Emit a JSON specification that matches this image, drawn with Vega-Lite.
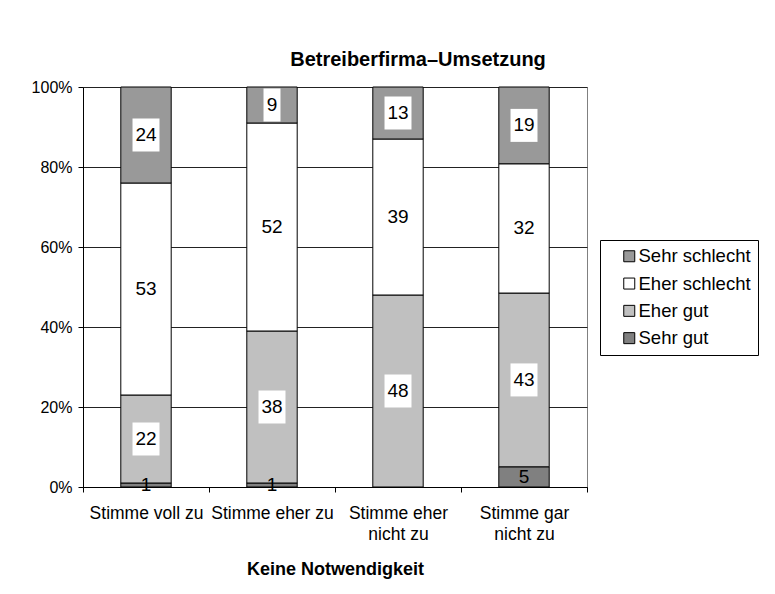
{
  "$schema": "https://vega.github.io/schema/vega-lite/v6.json",
  "width": 504,
  "height": 400,
  "autosize": {"type": "none"},
  "padding": {"left": 83, "top": 87, "right": 188, "bottom": 107},
  "background": "white",
  "config": {"font": "Liberation Sans", "view": {"stroke": "#808080", "strokeWidth": 1}},
  "title": {"text": "Betreiberfirma–Umsetzung", "fontSize": 20, "fontWeight": "bold", "color": "black", "anchor": "middle", "dx": 83, "offset": 9, "frame": "group"},
  "data": {"values": [
    {"cat": "Stimme voll zu", "rating": "Sehr gut", "k": 1, "value": 1},
    {"cat": "Stimme voll zu", "rating": "Eher gut", "k": 2, "value": 22},
    {"cat": "Stimme voll zu", "rating": "Eher schlecht", "k": 3, "value": 53},
    {"cat": "Stimme voll zu", "rating": "Sehr schlecht", "k": 4, "value": 24},
    {"cat": "Stimme eher zu", "rating": "Sehr gut", "k": 1, "value": 1},
    {"cat": "Stimme eher zu", "rating": "Eher gut", "k": 2, "value": 38},
    {"cat": "Stimme eher zu", "rating": "Eher schlecht", "k": 3, "value": 52},
    {"cat": "Stimme eher zu", "rating": "Sehr schlecht", "k": 4, "value": 9},
    {"cat": "Stimme eher nicht zu", "rating": "Eher gut", "k": 2, "value": 48},
    {"cat": "Stimme eher nicht zu", "rating": "Eher schlecht", "k": 3, "value": 39},
    {"cat": "Stimme eher nicht zu", "rating": "Sehr schlecht", "k": 4, "value": 13},
    {"cat": "Stimme gar nicht zu", "rating": "Sehr gut", "k": 1, "value": 5},
    {"cat": "Stimme gar nicht zu", "rating": "Eher gut", "k": 2, "value": 43},
    {"cat": "Stimme gar nicht zu", "rating": "Eher schlecht", "k": 3, "value": 32},
    {"cat": "Stimme gar nicht zu", "rating": "Sehr schlecht", "k": 4, "value": 19}
  ]},
  "transform": [
    {"stack": "value", "groupby": ["cat"], "sort": [{"field": "k", "order": "ascending"}], "offset": "normalize", "as": ["y0", "y1"]},
    {"calculate": "(datum.y0 + datum.y1) / 2", "as": "mid"}
  ],
  "encoding": {
    "x": {
      "field": "cat", "type": "nominal",
      "sort": ["Stimme voll zu", "Stimme eher zu", "Stimme eher nicht zu", "Stimme gar nicht zu"],
      "scale": {"paddingInner": 0, "paddingOuter": 0},
      "axis": {
        "title": "Keine Notwendigkeit", "titleFontSize": 18, "titleFontWeight": "bold", "titleColor": "black", "titlePadding": 18,
        "labelFontSize": 17.5, "labelColor": "black", "labelAngle": 0, "labelPadding": 12, "labelLineHeight": 21,
        "labelOverlap": false, "labelLimit": 0,
        "labelExpr": "datum.label == 'Stimme eher nicht zu' ? ['Stimme eher', 'nicht zu'] : datum.label == 'Stimme gar nicht zu' ? ['Stimme gar', 'nicht zu'] : datum.label",
        "tickBand": "extent", "tickSize": 5, "tickColor": "black", "domainColor": "black"
      }
    }
  },
  "layer": [
    {
      "mark": {"type": "bar", "width": {"band": 0.4}, "stroke": "black", "strokeWidth": 1},
      "encoding": {
        "y": {
          "field": "y0", "type": "quantitative",
          "scale": {"domain": [0, 1], "nice": false},
          "axis": {"title": null, "values": [0, 0.2, 0.4, 0.6, 0.8, 1], "format": ".0%", "labelFontSize": 16, "labelColor": "black",
                   "tickSize": 5, "tickColor": "black", "domainColor": "black", "gridColor": "#222", "labelPadding": 6}
        },
        "y2": {"field": "y1"},
        "color": {
          "field": "rating", "type": "nominal",
          "scale": {"domain": ["Sehr schlecht", "Eher schlecht", "Eher gut", "Sehr gut"], "range": ["#999999", "#ffffff", "#c0c0c0", "#808080"]},
          "legend": {
            "title": null, "orient": "none", "legendX": 517, "legendY": 153,
            "labelFontSize": 18.5, "labelColor": "black", "symbolType": "square", "symbolSize": 121,
            "symbolStrokeColor": "black", "symbolStrokeWidth": 1, "strokeColor": "black", "fillColor": "white",
            "padding": 7, "rowPadding": 8.3, "symbolOffset": 13, "labelOffset": 0
          }
        }
      }
    },
    {
      "transform": [{"filter": "datum.rating != 'Sehr gut' && datum.value >= 10"}],
      "mark": {"type": "point", "shape": "M-0.818,-1L0.818,-1L0.818,1L-0.818,1Z", "size": 1089, "filled": true, "fill": "white", "opacity": 1, "strokeWidth": 0},
      "encoding": {"y": {"field": "mid", "type": "quantitative"}}
    },
    {
      "transform": [{"filter": "datum.rating != 'Sehr gut' && datum.value < 10"}],
      "mark": {"type": "point", "shape": "M-0.515,-1L0.515,-1L0.515,1L-0.515,1Z", "size": 1089, "filled": true, "fill": "white", "opacity": 1, "strokeWidth": 0},
      "encoding": {"y": {"field": "mid", "type": "quantitative"}}
    },
    {
      "mark": {"type": "text", "fontSize": 19, "color": "black", "baseline": "middle"},
      "encoding": {
        "y": {"field": "mid", "type": "quantitative"},
        "text": {"field": "value", "type": "quantitative"}
      }
    }
  ]
}
